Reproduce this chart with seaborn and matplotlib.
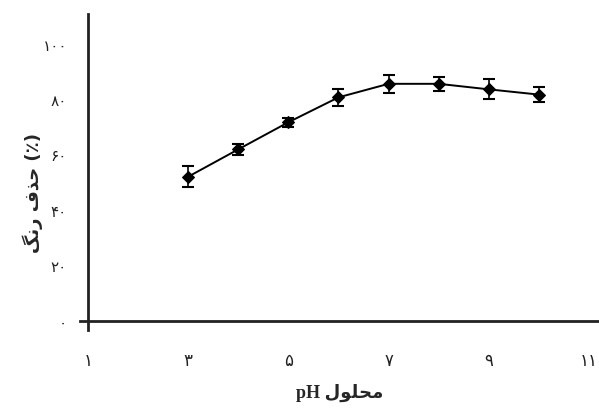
import matplotlib
matplotlib.use("Agg")
import matplotlib.pyplot as plt
import seaborn as sns
import pandas as pd

# data
ph = [3, 4, 5, 6, 7, 8, 9, 10]
removal = [52.3, 62.2, 72.0, 81.0, 85.9, 85.9, 83.9, 82.0]
err = [3.9, 2.0, 1.6, 3.2, 3.3, 2.5, 3.6, 2.8]

xticks = [1, 3, 5, 7, 9, 11]
xtick_labels = ["۱", "۳", "۵", "۷", "۹", "۱۱"]
yticks = [0, 20, 40, 60, 80, 100]
ytick_labels = ["۰", "۲۰", "۴۰", "۶۰", "۸۰", "۱۰۰"]

# Arabic text pre-shaped (presentation forms), in visual LTR order
ylabel = "\uFB93\uFEE7\uFEAD \uFED1\uFEAC\uFEA3 (٪)"   # حذف رنگ (٪)
xlabel = "pH \uFEDD\uFEEE\uFEE0\uFEA4\uFEE3"           # محلول pH

df = pd.DataFrame({"pH": ph, "removal": removal, "err": err})

sns.set_style("white")
plt.rcParams["font.family"] = ["Liberation Serif", "DejaVu Sans"]

fig, ax = plt.subplots(figsize=(5.99, 4.12), dpi=100)
fig.subplots_adjust(left=0.1335, right=1.0, top=0.965, bottom=0.2)

sns.lineplot(data=df, x="pH", y="removal", ax=ax, color="black",
             linewidth=1.4, marker="D", markersize=6, markeredgecolor="black")
ax.errorbar(df["pH"], df["removal"], yerr=df["err"], fmt="none",
            ecolor="black", elinewidth=1.2, capsize=4, capthick=1.5)

ax.set_xlim(0.84, 11.2)
ax.set_ylim(-3, 111)

for s in ["top", "right"]:
    ax.spines[s].set_visible(False)
ax.spines["left"].set_position(("data", 1))
ax.spines["bottom"].set_position(("data", 0))
for s in ["left", "bottom"]:
    ax.spines[s].set_color("#222222")
    ax.spines[s].set_linewidth(2)

ax.set_xticks(xticks)
ax.set_xticklabels(xtick_labels, family=["DejaVu Sans"], fontsize=12, color="#222222")
ax.set_yticks(yticks)
ax.set_yticklabels(ytick_labels, family=["DejaVu Sans"], fontsize=11, color="#222222")
ax.tick_params(axis="x", direction="out", length=5, width=1, color="#999999", pad=17)
ax.tick_params(axis="y", direction="out", length=5, width=1, color="#999999", pad=10)

ax.set_xlabel(xlabel, fontsize=13, fontweight="bold", labelpad=10)
ax.set_ylabel(ylabel, fontsize=13, fontweight="bold", family=["DejaVu Sans"])
ax.yaxis.set_label_coords(-0.072, 0.434)

fig.savefig("out.png", dpi=100)
